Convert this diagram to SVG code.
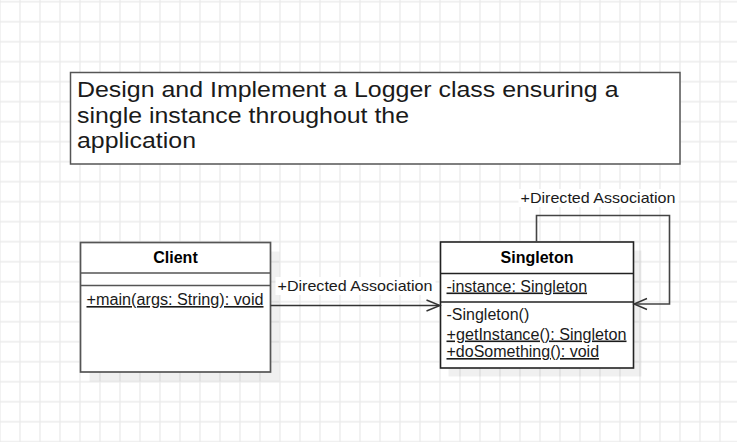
<svg xmlns="http://www.w3.org/2000/svg" width="737" height="442" viewBox="0 0 737 442">
  <style>
    text { font-family: "Liberation Sans", Arial, sans-serif; fill: #000; }
    .title { font-size: 21.5px; fill: #1a1a1a; }
    .cls { font-size: 16px; font-weight: bold; text-anchor: middle; }
    .mem { font-size: 16px; fill: #1a1a1a; }
    .ul { text-decoration: underline; }
    .lbl { font-size: 15px; fill: #1a1a1a; }
    .shadow { fill: #000; fill-opacity: 0.06; }
    .box { fill: #fff; }
    .edge { fill: none; stroke: #333; stroke-width: 1.4; }
  </style>
  <defs>
    <pattern id="grid" patternUnits="userSpaceOnUse" x="-10" y="-8.3" width="20" height="20">
      <rect width="20" height="20" fill="#fff"/>
      <path d="M10 0V20M0 10H20" stroke="#ebebeb" stroke-width="1.3" fill="none"/>
    </pattern>
  </defs>
  <rect width="737" height="442" fill="url(#grid)"/>

  <g id="title">
    <rect x="70.5" y="72.5" width="609.5" height="91.5" fill="#fff" stroke="#555" stroke-width="1.5"/>
    <text class="title" x="77" y="97" textLength="541.5" lengthAdjust="spacingAndGlyphs">Design and Implement a Logger class ensuring a</text>
    <text class="title" x="77" y="122.5" textLength="332" lengthAdjust="spacingAndGlyphs">single instance throughout the</text>
    <text class="title" x="77" y="148" textLength="119" lengthAdjust="spacingAndGlyphs">application</text>
  </g>

  <g id="client">
    <rect class="shadow" x="89.5" y="251.5" width="190" height="130"/>
    <rect class="box" x="80.5" y="242.5" width="190" height="129.5" stroke="#555" stroke-width="1.7"/>
    <line x1="80.5" y1="273" x2="270.5" y2="273" stroke="#555" stroke-width="1.5"/>
    <line x1="80.5" y1="285.5" x2="270.5" y2="285.5" stroke="#555" stroke-width="1.5"/>
    <text class="cls" x="175.5" y="262.5">Client</text>
    <text class="mem ul" x="86.5" y="305" textLength="177" lengthAdjust="spacingAndGlyphs">+main(args: String): void</text>
  </g>

  <g id="singleton">
    <rect class="shadow" x="448.5" y="250.5" width="193" height="126"/>
    <rect class="box" x="440.5" y="242" width="193" height="126" stroke="#222" stroke-width="1.6"/>
    <line x1="440.5" y1="273.5" x2="633.5" y2="273.5" stroke="#222" stroke-width="1.4"/>
    <line x1="440.5" y1="302" x2="633.5" y2="302" stroke="#222" stroke-width="1.4"/>
    <text class="cls" x="537" y="263">Singleton</text>
    <text class="mem ul" x="446.5" y="291.5">-instance: Singleton</text>
    <text class="mem" x="446.5" y="320">-Singleton()</text>
    <text class="mem ul" x="446.5" y="339.5" textLength="180" lengthAdjust="spacingAndGlyphs">+getInstance(): Singleton</text>
    <text class="mem ul" x="446.5" y="357">+doSomething(): void</text>
  </g>

  <g id="connectors">
    <g id="client-to-singleton">
      <line class="edge" x1="270.5" y1="305.5" x2="439.5" y2="305.5"/>
      <polyline class="edge" points="426.5,300 440,305.5 426.5,311"/>
      <rect x="275.5" y="277" width="160" height="18" fill="#fff"/>
      <text class="lbl" x="277.5" y="291" textLength="155" lengthAdjust="spacingAndGlyphs">+Directed Association</text>
    </g>
    <g id="singleton-self">
      <path class="edge" d="M536.5 242V215.5H669.5V304H634.5" stroke="#444" style="stroke:#444;stroke-width:1.6"/>
      <polyline class="edge" points="647,298.5 634,304 647,309.5"/>
      <rect x="518.5" y="189" width="160" height="18" fill="#fff"/>
      <text class="lbl" x="520.5" y="203" textLength="155" lengthAdjust="spacingAndGlyphs">+Directed Association</text>
    </g>
  </g>
</svg>
